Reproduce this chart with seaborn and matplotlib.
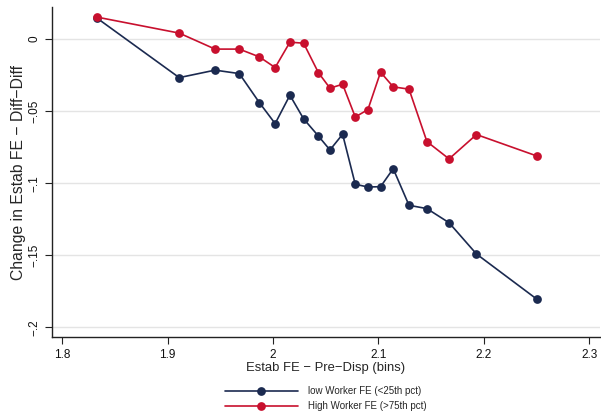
import matplotlib
matplotlib.use("Agg")
import matplotlib.pyplot as plt
import seaborn as sns
import pandas as pd

# ---- data ----
estab_fe_bins = [1.833, 1.911, 1.945, 1.968, 1.987, 2.002, 2.016, 2.029, 2.043, 2.054,
                 2.066, 2.078, 2.090, 2.102, 2.114, 2.129, 2.146, 2.167, 2.193, 2.250]
low_worker = [0.0146, -0.0267, -0.0215, -0.0239, -0.0440, -0.0586, -0.0389, -0.0553, -0.0672, -0.0769,
              -0.0660, -0.1007, -0.1026, -0.1024, -0.0899, -0.1153, -0.1176, -0.1274, -0.1491, -0.1803]
high_worker = [0.0153, 0.0042, -0.0069, -0.0069, -0.0123, -0.0197, -0.0021, -0.0028, -0.0232, -0.0340,
               -0.0313, -0.0540, -0.0489, -0.0229, -0.0331, -0.0347, -0.0711, -0.0831, -0.0662, -0.0810]
series_names = ["low Worker FE (<25th pct)", "High Worker FE (>75th pct)"]
series_colors = ["#1b2a50", "#c8102e"]
x_ticks = [1.8, 1.9, 2.0, 2.1, 2.2, 2.3]
x_tick_labels = ["1.8", "1.9", "2", "2.1", "2.2", "2.3"]
y_ticks = [0.0, -0.05, -0.1, -0.15, -0.2]
y_tick_labels = ["0", "\u2212.05", "\u2212.1", "\u2212.15", "\u2212.2"]

df = pd.concat([
    pd.DataFrame({"x": estab_fe_bins, "y": low_worker, "group": series_names[0]}),
    pd.DataFrame({"x": estab_fe_bins, "y": high_worker, "group": series_names[1]}),
])

sns.set_style("white")
plt.rcParams["font.family"] = ["Liberation Sans", "DejaVu Sans"]

fig = plt.figure(figsize=(6.01, 4.12), dpi=100)
ax = fig.add_axes([0.086, 0.181, 0.912, 0.803])

sns.lineplot(data=df, x="x", y="y", hue="group", hue_order=series_names,
             palette=series_colors, marker="o", markersize=6.3, markeredgewidth=0,
             linewidth=1.2, sort=False, estimator=None, ax=ax, legend=True)

ax.set_xlim(1.790, 2.310)
ax.set_ylim(-0.207, 0.0226)
ax.set_xticks(x_ticks)
ax.set_xticklabels(x_tick_labels, fontsize=8.5)
ax.set_yticks(y_ticks)
ax.set_yticklabels(y_tick_labels, fontsize=8.5, rotation=90, va="center")
ax.yaxis.grid(True, color="#e4e4e4", linewidth=1.0)
ax.xaxis.grid(False)
ax.set_axisbelow(True)
for s in ["top", "right"]:
    ax.spines[s].set_visible(False)
for s in ["left", "bottom"]:
    ax.spines[s].set_color("#222222")
    ax.spines[s].set_linewidth(1.0)
ax.tick_params(axis="both", which="major", direction="out", length=5, width=0.8,
               color="#222222", labelcolor="#111111", pad=3,
               left=True, bottom=True)

ax.set_xlabel("Estab FE \u2212 Pre\u2212Disp (bins)", fontsize=9.4, labelpad=1)
ax.set_ylabel("Change in Estab FE \u2212 Diff\u2212Diff", fontsize=11.3, labelpad=1.5)

handles, labels = ax.get_legend_handles_labels()
ax.legend(handles, labels, loc="center", bbox_to_anchor=(0.5, -0.185),
          frameon=False, fontsize=7, handlelength=7.5, handletextpad=1.1,
          labelspacing=0.55, borderaxespad=0, borderpad=0)

fig.savefig("out.png", dpi=100)
